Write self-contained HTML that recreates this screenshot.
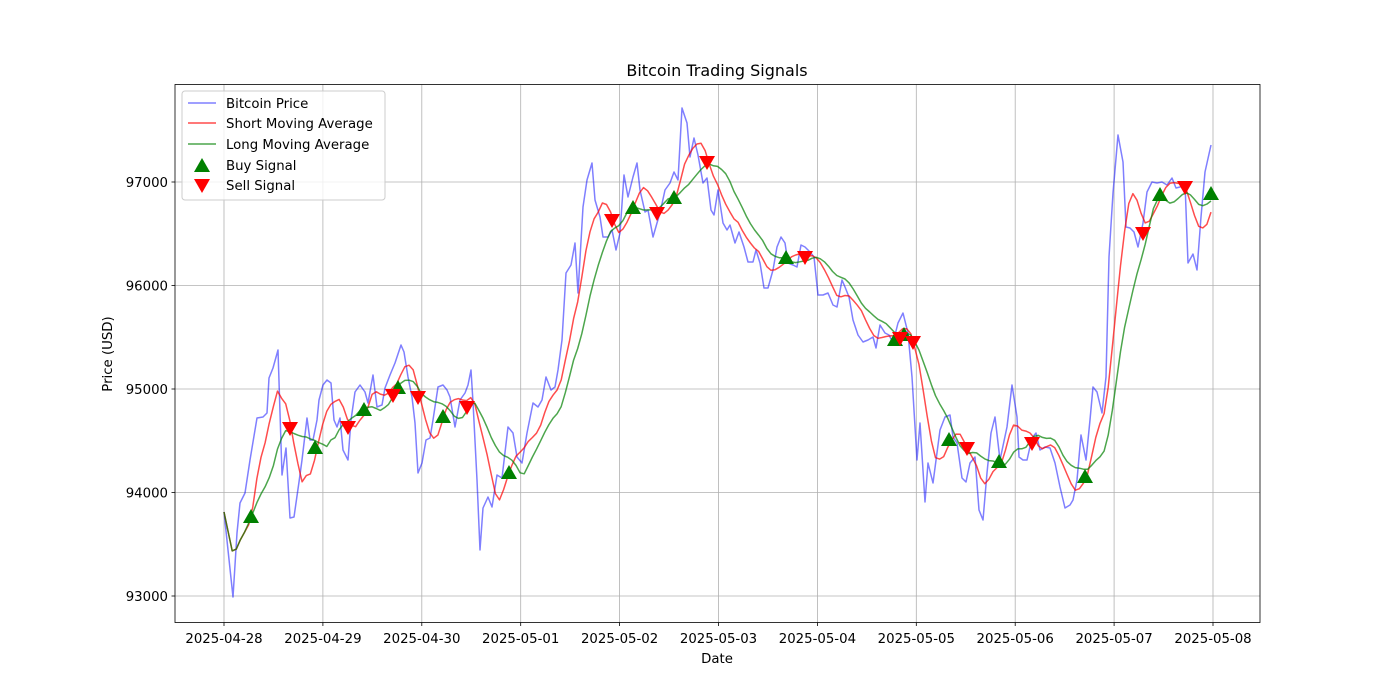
<!DOCTYPE html>
<html><head><meta charset="utf-8"><style>
body{margin:0;background:#fff}
svg{display:block;font-family:"DejaVu Sans","Liberation Sans",sans-serif}
</style></head><body>
<svg id="s" width="1400" height="700" viewBox="0 0 1400 700" xmlns="http://www.w3.org/2000/svg">
<rect width="1400" height="700" fill="#fff"/>
<g id="grid" stroke="#b0b0b0" stroke-width="0.8"></g>
<g id="lines" fill="none" stroke-width="1.5" stroke-linejoin="round"></g>
<g id="marks"></g>
<rect x="175" y="84.5" width="1085" height="538" fill="none" stroke="#000" stroke-width="0.8"/>
<g id="ticks" font-size="13.3" fill="#000"></g>
<text x="717" y="76" font-size="16" text-anchor="middle">Bitcoin Trading Signals</text>
<text x="717" y="663" font-size="13.3" text-anchor="middle">Date</text>
<text transform="translate(112,354) rotate(-90)" font-size="13.3" text-anchor="middle">Price (USD)</text>
<g id="legend" font-size="13.3">
<rect x="182" y="91" width="203" height="109" rx="3" fill="#fff" fill-opacity="0.8" stroke="#ccc"/>
<line x1="188" y1="103" x2="216" y2="103" stroke="#0000ff" stroke-opacity="0.5" stroke-width="1.5"/>
<text x="226" y="108">Bitcoin Price</text>
<line x1="188" y1="123" x2="216" y2="123" stroke="#ff0000" stroke-opacity="0.7" stroke-width="1.5"/>
<text x="226" y="128">Short Moving Average</text>
<line x1="188" y1="144" x2="216" y2="144" stroke="#008000" stroke-opacity="0.7" stroke-width="1.5"/>
<text x="226" y="149">Long Moving Average</text>
<polygon points="202,158 194,172 210,172" fill="#008000"/>
<text x="226" y="170">Buy Signal</text>
<polygon points="194,179 210,179 202,193" fill="#ff0000"/>
<text x="226" y="190">Sell Signal</text>
</g>
</svg>
<script>
const NS="http://www.w3.org/2000/svg";
function el(p,t,a,txt){const e=document.createElementNS(NS,t);for(const k in a)e.setAttribute(k,a[k]);if(txt!==undefined)e.textContent=txt;document.getElementById(p).appendChild(e);return e;}
const dates=["2025-04-28","2025-04-29","2025-04-30","2025-05-01","2025-05-02","2025-05-03","2025-05-04","2025-05-05","2025-05-06","2025-05-07","2025-05-08"];
dates.forEach((d,i)=>{const x=224+i*98.9;el("grid","line",{x1:x,y1:84.5,x2:x,y2:622.5});
el("ticks","line",{x1:x,y1:622.5,x2:x,y2:626,stroke:"#000","stroke-width":0.8});
el("ticks","text",{x:x,y:643,"text-anchor":"middle"},d);});
[93000,94000,95000,96000,97000].forEach((v,i)=>{const y=596-i*103.5;el("grid","line",{x1:175,y1:y,x2:1260,y2:y});
el("ticks","line",{x1:171.5,y1:y,x2:175,y2:y,stroke:"#000","stroke-width":0.8});
el("ticks","text",{x:168,y:y+5,"text-anchor":"end"},v);});
const P=[[224,512],[228,550],[233,597],[237,533],[240,503],[245,493],[250,460],[255,430],[257,418],[263,417],[267,413],[269,378],[273,368],[278,350],[282,475],[286,448],[290,518],[294,517],[299,482],[302,460],[307,418],[310,440],[313,440],[317,420],[319,400],[323,385],[327,380],[331,383],[334,420],[337,427],[340,418],[343,450],[348,460],[351,420],[355,392],[360,385],[365,392],[368,403],[373,375],[377,407],[382,405],[385,388],[390,375],[395,363],[401,345],[404,352],[408,377],[412,397],[415,423],[418,473],[422,463],[426,440],[430,438],[433,420],[438,387],[443,385],[447,390],[450,397],[455,427],[460,400],[465,393],[468,385],[471,370],[473,402],[477,480],[480,550],[483,508],[488,497],[492,507],[497,475],[502,478],[508,427],[513,433],[517,457],[522,463],[527,433],[533,403],[538,407],[542,400],[546,377],[551,390],[555,387],[558,370],[562,340],[566,273],[571,265],[575,243],[578,293],[583,207],[587,180],[592,163],[595,200],[600,217],[603,237],[608,237],[612,230],[616,250],[620,233],[624,175],[628,197],[633,177],[637,163],[640,190],[645,212],[648,210],[653,237],[657,223],[660,213],[665,190],[670,183],[674,172],[678,180],[682,108],[687,123],[690,157],[694,138],[698,155],[703,183],[707,178],[711,210],[714,215],[718,190],[723,223],[727,230],[730,225],[735,243],[739,232],[744,247],[748,262],[753,262],[756,250],[760,263],[764,288],[768,288],[773,270],[777,247],[781,237],[785,243],[788,263],[793,265],[797,267],[801,245],[805,247],[810,252],[814,257],[818,295],[823,295],[828,293],[833,305],[837,307],[842,280],[845,287],[849,297],[853,320],[858,335],[863,342],[868,340],[873,337],[876,348],[880,325],[885,333],[889,335],[893,343],[898,323],[903,313],[908,333],[912,377],[917,460],[920,423],[925,502],[928,463],[933,483],[940,430],[945,417],[950,415],[953,437],[957,443],[962,478],[966,482],[970,463],[975,457],[979,510],[983,520],[987,473],[991,433],[995,417],[1000,460],[1007,427],[1012,385],[1017,417],[1019,457],[1023,460],[1027,460],[1032,438],[1036,433],[1040,450],[1045,447],[1050,448],[1055,463],[1060,487],[1065,508],[1070,505],[1073,500],[1077,480],[1081,435],[1086,460],[1090,420],[1093,387],[1097,392],[1102,413],[1106,377],[1109,257],[1113,193],[1118,135],[1123,162],[1126,227],[1130,228],[1134,232],[1138,247],[1143,223],[1147,192],[1152,182],[1157,183],[1162,182],[1167,185],[1172,178],[1176,188],[1180,187],[1185,183],[1188,263],[1193,254],[1197,270],[1201,217],[1205,172],[1211,145]];
function interp(x){for(let i=1;i<P.length;i++){if(x<=P[i][0]){const a=P[i-1],b=P[i];return a[1]+(b[1]-a[1])*(x-a[0])/(b[0]-a[0]);}}return P[P.length-1][1];}
const N=240,xs=[],ys=[];for(let i=0;i<=N;i++){const x=224+i*(1211-224)/N;xs.push(x);ys.push(interp(x));}
function ma(w){return ys.map((_,i)=>{let s=0,c=0;for(let j=Math.max(0,i-w+1);j<=i;j++){s+=ys[j];c++;}return s/c;});}
function path(arr){return arr.map((y,i)=>(i?"L":"M")+xs[i].toFixed(1)+","+y.toFixed(1)).join("");}
el("lines","path",{d:P.map((p,i)=>(i?"L":"M")+p[0]+","+p[1]).join(""),stroke:"#0000ff","stroke-opacity":0.5});
el("lines","path",{d:path(ma(6)),stroke:"#ff0000","stroke-opacity":0.7});
el("lines","path",{d:path(ma(12)),stroke:"#008000","stroke-opacity":0.7});
const buys=[[251,517],[315,448],[364,410],[398,388],[443,417],[509,473],[633,208],[674,198],[786,258],[895,340],[904,335],[949,440],[999,462],[1085,477],[1160,195],[1211,194]];
const sells=[[290,428],[348,427],[393,395],[418,397],[467,407],[612,220],[657,213],[707,162],[805,257],[900,338],[913,342],[967,448],[1032,443],[1143,233],[1185,187]];
buys.forEach(([x,y])=>el("marks","polygon",{points:`${x},${y-8} ${x-8},${y+6} ${x+8},${y+6}`,fill:"#008000"}));
sells.forEach(([x,y])=>el("marks","polygon",{points:`${x-8},${y-6} ${x+8},${y-6} ${x},${y+8}`,fill:"#ff0000"}));
</script>
</body></html>
